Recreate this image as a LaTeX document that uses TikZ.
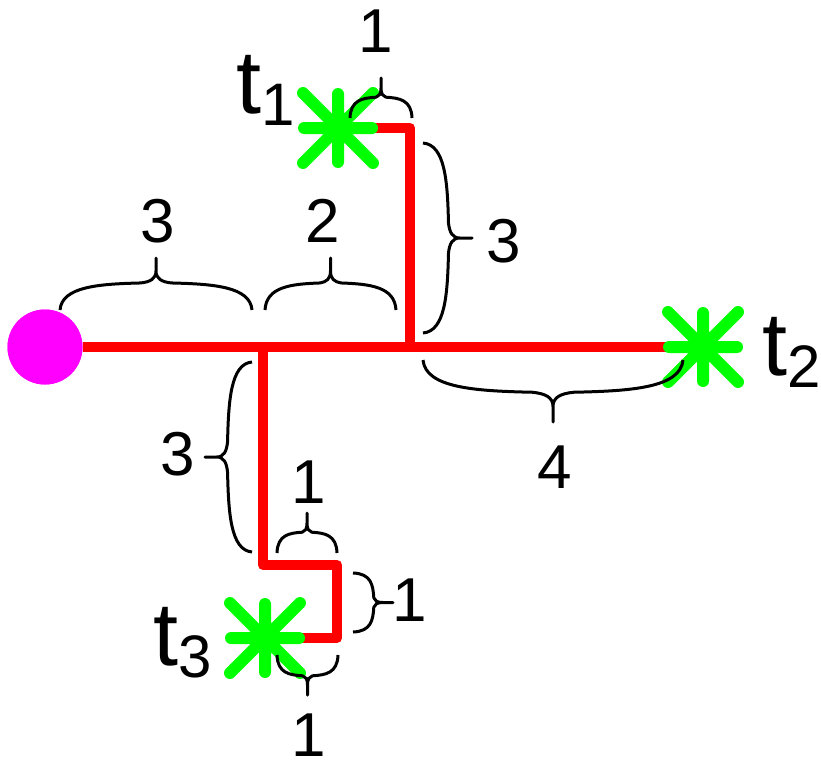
\documentclass[tikz,border=0pt]{standalone}
\usepackage{fontspec}
\setmainfont{Liberation Sans}
\definecolor{rd}{RGB}{255,0,0}
\definecolor{gr}{RGB}{0,255,0}
\definecolor{mg}{RGB}{255,0,255}
\newcommand\curlyb[4]{\begin{scope}[shift={#1},rotate=#2]
\draw[bracestyle] (0,0) .. controls ({0.01*#3},{-0.45*#4}) and ({0.2*#3},{-0.5*#4}) .. ({0.42*#3},{-0.52*#4}) .. controls ({0.47*#3},{-0.54*#4}) and ({0.5*#3},{-0.6*#4}) .. ({0.5*#3},{-0.75*#4}) -- ({0.5*#3},{-#4}) -- ({0.5*#3},{-0.75*#4}) .. controls ({0.5*#3},{-0.6*#4}) and ({0.53*#3},{-0.54*#4}) .. ({0.58*#3},{-0.52*#4}) .. controls ({0.8*#3},{-0.5*#4}) and ({0.99*#3},{-0.45*#4}) .. (#3,0);
\end{scope}}
\tikzset{
  bracestyle/.style={black, line width=3pt, line join=round},
  wire/.style={rd, line width=10pt, line join=round},
  starmark/.pic={\draw[gr, line width=12pt, line cap=round] (-34,0)--(34,0) (0,-34)--(0,34) (-35,-35)--(35,35) (-35,35)--(35,-35);},
  num/.style={inner sep=0pt, font=\fontsize{62}{62}\selectfont},
  tlab/.style={inner sep=0pt, anchor=base west, font=\fontsize{90}{90}\selectfont},
}
\newcommand\subl[1]{\raisebox{-12pt}{\fontsize{60}{60}\selectfont #1}}
\begin{document}
\begin{tikzpicture}[x=1pt,y=-1pt]
\useasboundingbox (0,0) rectangle (821,760);
% coordinates
\coordinate (A) at (263,347);
\coordinate (B) at (410,347);
\coordinate (s1) at (338,128);
\coordinate (s2) at (703,347);
\coordinate (s3) at (265,638);
\coordinate (c1) at (410,128);
\coordinate (c2) at (263,565);
\coordinate (c3) at (337,565);
\coordinate (c4) at (337,638);
\node[circle, fill=mg, inner sep=0pt, minimum size=75pt] (r) at (45,347) {};
% red tree
\draw[wire] (r.east) -- (A) -- (B) -- (s2);
\draw[wire] (B) -- (c1) -- (s1);
\draw[wire] (A) -- (c2) -- (c3) -- (c4) -- (s3);
\fill[mg] (r.center) circle (37.5);
% stars
\pic at (s1) {starmark};
\pic at (s2) {starmark};
\pic at (s3) {starmark};
% braces
\curlyb{(350,118)}{0}{62}{40}
\curlyb{(423,143)}{-90}{190}{49}
\curlyb{(60,310)}{0}{192}{52}
\curlyb{(265,310)}{0}{131}{52}
\curlyb{(683,360)}{180}{260}{62}
\curlyb{(252,552)}{90}{190}{47}
\curlyb{(277,553)}{0}{60}{40}
\curlyb{(353,573)}{-90}{59}{40}
\curlyb{(338,655)}{180}{61}{40}
% numbers
\node[num] (n1) at (376,31) {1};
\node[num] (n2) at (504,241) {3};
\node[num] (n3) at (158,221) {3};
\node[num] (n4) at (323,221) {2};
\node[num] (n5) at (555,467) {4};
\node[num] (n6) at (178,454) {3};
\node[num] (n7) at (309,482) {1};
\node[num] (n8) at (410,600) {1};
\node[num] (n9) at (309,735) {1};
% terminal labels
\node[tlab] (l1) at (236,113) {t\subl{1}};
\node[tlab] (l2) at (762,375) {t\subl{2}};
\node[tlab] (l3) at (153,665) {t\subl{3}};
\end{tikzpicture}
\end{document}
